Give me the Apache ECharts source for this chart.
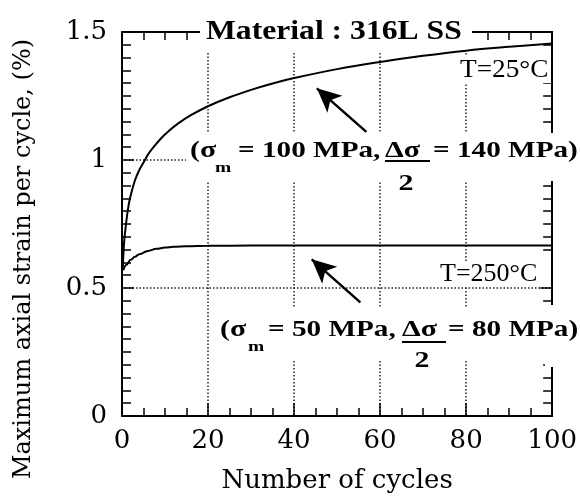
<!DOCTYPE html>
<html><head><meta charset="utf-8">
<script src="https://cdn.jsdelivr.net/npm/echarts@6/dist/echarts.min.js"></script>
<style>html,body{margin:0;padding:0;background:#fff}#c{width:580px;height:499px}</style>
</head><body><div id="c"></div>
<script>
// ---- data ----
const xTicks = [0, 20, 40, 60, 80, 100];
const yTicks = [0, 0.5, 1, 1.5];
const cycles25 = [0.2, 0.5, 1, 1.5, 2, 3, 4, 5, 6, 7, 9, 11, 13, 16, 20, 25, 30, 35, 40, 50, 60, 70, 80, 90, 100];
const strain25 = [0.58, 0.68, 0.76, 0.82, 0.86, 0.92, 0.96, 0.99, 1.02, 1.043, 1.083, 1.115, 1.142, 1.175, 1.21, 1.245, 1.274, 1.299, 1.32, 1.355, 1.383, 1.407, 1.427, 1.442, 1.455];
const cycles250 = [0.3, 1, 2, 3, 4, 6, 8, 10, 12, 15, 20, 30, 40, 50, 60, 70, 80, 90, 100];
const strain250 = [0.57, 0.59, 0.61, 0.622, 0.632, 0.645, 0.653, 0.658, 0.661, 0.663, 0.665, 0.666, 0.666, 0.666, 0.666, 0.666, 0.666, 0.666, 0.666];
const arrow25 = [[56.8, 1.11], [45.3, 1.28]];
const arrow250 = [[55.4, 0.444], [44.1, 0.612]];
const titleText = 'Material : 316L SS';
const label25 = 'T=25°C';
const label250 = 'T=250°C';

const pair = (xs, ys) => xs.map((x, i) => [x, ys[i]]);
const SERIF = '"DejaVu Serif", serif';
const TIMES = '"Liberation Serif", "Times New Roman", serif';

const tickStyle = {color: '#000', width: 1.5};
const gridStyle = {color: '#222', width: 1.5, type: [1.5, 2]};
function xAx(pos, labels) {
  return {
    type: 'value', position: pos, min: 0, max: 100, interval: 20,
    axisLine: {show: true, onZero: false, lineStyle: {color: '#000', width: 2}},
    axisTick: {show: true, inside: true, length: 13, lineStyle: tickStyle},
    minorTick: {show: true, splitNumber: 4, length: 8, lineStyle: tickStyle},
    splitLine: {show: labels, lineStyle: gridStyle},
    axisLabel: {show: labels, color: '#000', fontFamily: SERIF, fontSize: 26, margin: 12,
      formatter: v => xTicks.includes(v) ? String(v) : ''},
    name: labels ? 'Number of cycles' : '', nameLocation: 'middle', nameGap: 52,
    nameTextStyle: {color: '#000', fontFamily: SERIF, fontSize: 26}
  };
}
function yAx(pos, labels) {
  return {
    type: 'value', position: pos, min: 0, max: 1.5, interval: 0.5,
    axisLine: {show: true, onZero: false, lineStyle: {color: '#000', width: 2}},
    axisTick: {show: true, inside: true, length: 12, lineStyle: tickStyle},
    minorTick: {show: true, splitNumber: 10, length: 9, lineStyle: tickStyle},
    splitLine: {show: labels, lineStyle: gridStyle},
    axisLabel: {show: labels, color: '#000', fontFamily: SERIF, fontSize: 26, margin: 15,
      formatter: v => yTicks.includes(v) ? String(v) : ''},
    name: labels ? 'Maximum axial strain per cycle, (%)' : '', nameLocation: 'middle', nameGap: 86,
    nameTextStyle: {color: '#000', fontFamily: SERIF, fontSize: 24, padding: [0, 70, 0, 0]}
  };
}

const chart = echarts.init(document.getElementById('c'), null, {renderer: 'canvas'});
const arrowLine = (a) => [{coord: a[0]}, {coord: a[1]}];

function gap(x, y, w, h) {
  return {type: 'rect', z: 1, shape: {x: x, y: y, width: w, height: h}, style: {fill: '#fff'}, silent: true};
}
function txt(s, x, y, size, bold, sx, align) {
  return {type: 'text', z: 10, x: x, y: y, scaleX: sx || 1, silent: true,
    style: {text: s, fill: '#000', font: (bold ? 'bold ' : '') + size + 'px ' + TIMES,
      textAlign: align || 'left', textVerticalAlign: 'middle'}};
}
function uline(x1, x2, y) {
  return {type: 'line', z: 10, shape: {x1: x1, y1: y, x2: x2, y2: y}, style: {stroke: '#000', lineWidth: 2}, silent: true};
}

chart.setOption({
  animation: false,
  backgroundColor: '#fff',
  grid: {left: 122, right: 25, top: 32, bottom: 82, containLabel: false},
  xAxis: [xAx('bottom', true), xAx('top', false)],
  yAxis: [yAx('left', true), yAx('right', false)],
  series: [
    {type: 'line', name: '25', data: pair(cycles25, strain25), showSymbol: false, symbol: 'none',
      smooth: 0.4, lineStyle: {color: '#000', width: 2}, z: 2,
      markLine: {silent: true, symbol: ['none', 'arrow'], symbolSize: [17, 24], label: {show: false},
        lineStyle: {color: '#000', width: 2.5, type: 'solid'}, data: [arrowLine(arrow25), arrowLine(arrow250)]}},
    {type: 'line', name: '250', data: pair(cycles250, strain250), showSymbol: false, symbol: 'none',
      smooth: 0.4, smoothMonotone: 'x', lineStyle: {color: '#000', width: 2}, z: 2}
  ],
  graphic: {elements: [
    gap(200, 16, 272, 36),
    gap(455, 56, 96, 27),
    gap(186, 133, 394, 48),
    gap(395, 175, 24, 20),
    gap(437, 262, 114, 24),
    gap(217, 307, 363, 52),
    gap(545, 305, 35, 62),
    gap(410, 350, 24, 20),
    txt(titleText, 206, 32, 28, true, 1.13),
    txt(label25, 460, 70, 26, false, 1.05),
    txt(label250, 440, 274, 26, false, 1.0),
    // upper annotation
    txt('(σ', 190, 151, 23, true, 1.3),
    txt('m', 215, 168, 15, true, 1.3),
    txt('= 100 MPa,', 238, 151, 23, true, 1.27),
    txt('Δσ', 385, 151, 23, true, 1.3),
    uline(385, 430, 161),
    txt('2', 406, 184, 23, true, 1.3, 'center'),
    txt('= 140 MPa)', 433, 151, 23, true, 1.27),
    // lower annotation
    txt('(σ', 220, 330, 23, true, 1.3),
    txt('m', 248, 347, 15, true, 1.3),
    txt('= 50 MPa,', 268, 330, 23, true, 1.27),
    txt('Δσ', 402, 330, 23, true, 1.3),
    uline(402, 446, 342),
    txt('2', 422, 361, 23, true, 1.3, 'center'),
    txt('= 80 MPa)', 448, 330, 23, true, 1.27)
  ]}
});
</script></body></html>
